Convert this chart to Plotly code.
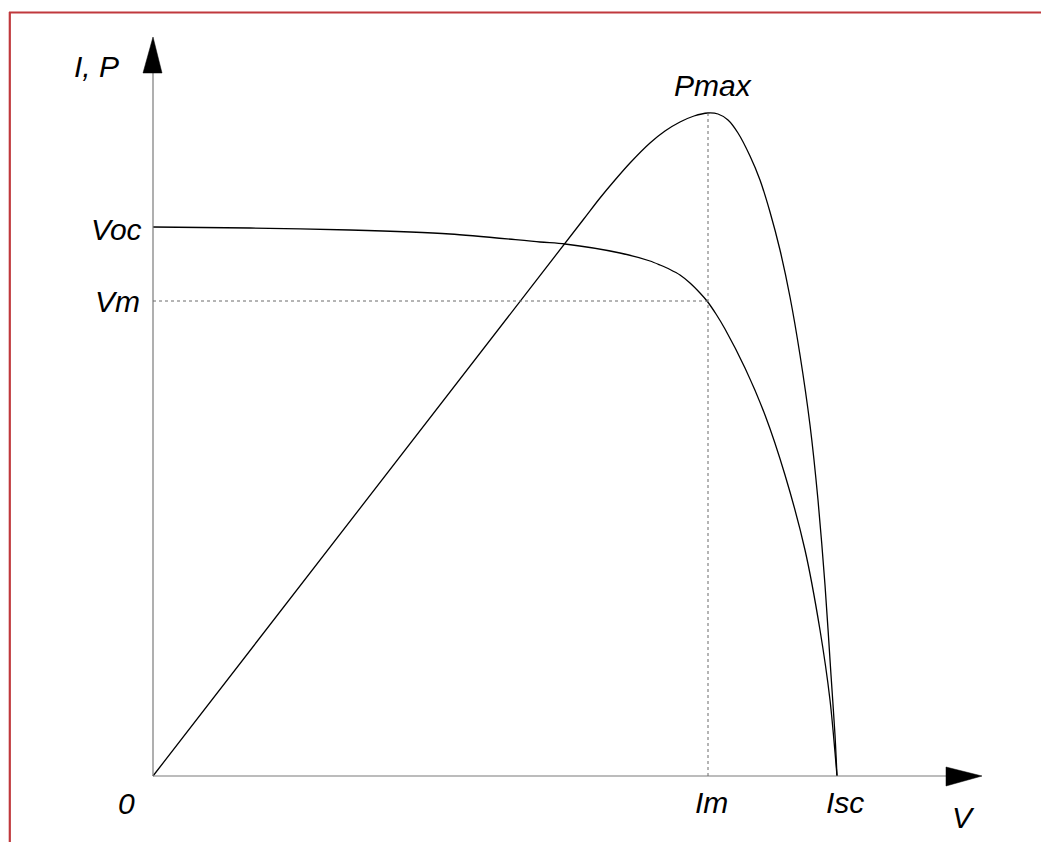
import plotly.graph_objects as go

# Values (units: pixels of the reference, origin at the axes' corner)
iv_v = [0, 97, 197, 297, 387, 412, 467, 497, 507, 517, 527, 537, 547, 554, 563, 572, 592, 612, 632, 652, 667, 677, 684]
iv_i = [549, 548, 546, 542, 534, 532, 523, 515, 511, 506.5, 501, 493, 483, 475, 462, 447, 408, 361, 301, 226, 146, 76, 0]

pv_v = [0, 430, 447, 462, 477, 497, 512, 527, 541, 555, 565, 575, 585, 597, 607, 617, 627, 637, 647, 657, 665, 672, 678, 682, 684]
pv_p = [0, 556, 578, 596, 613, 633, 645, 654, 660, 663, 662, 656, 643, 620, 596, 564, 526, 479, 421, 351, 276, 191, 101, 41, 0]

v_max = 684      # Isc
v_m = 555        # Im
i_oc = 549       # Voc level
i_m = 475        # Vm level
p_max = 663      # Pmax

axis_x_end = 829   # arrow tip along V
axis_y_end = 739   # arrow tip along I,P

# the page body adds an 8px offset, so the figure content is shifted back by 8px
OFF = 8
W, H = 1049, 842
x0_px, y0_px = 153 - OFF, 776 - OFF

fig = go.Figure()
for xs, ys in ((iv_v, iv_i), (pv_v, pv_p)):
    fig.add_trace(go.Scatter(x=xs, y=ys, mode="lines",
                             line=dict(color="black", width=1.3, shape="spline", smoothing=0.8),
                             hoverinfo="skip", showlegend=False))

axis_col = "#7a7a7a"
shapes = []
shapes.append(dict(type="line", x0=0, y0=0, x1=axis_x_end - 36, y1=0, line=dict(color=axis_col, width=1.2)))
shapes.append(dict(type="line", x0=0, y0=0, x1=0, y1=axis_y_end - 36, line=dict(color=axis_col, width=1.2)))
shapes.append(dict(type="path", path=f"M {axis_x_end-36},9 L {axis_x_end},0 L {axis_x_end-36},-10 Z",
                   fillcolor="black", line=dict(color="black", width=0.5)))
shapes.append(dict(type="path", path=f"M -10,{axis_y_end-36} L 0,{axis_y_end} L 9,{axis_y_end-36} Z",
                   fillcolor="black", line=dict(color="black", width=0.5)))
dash_col = "#6a6a6a"
shapes.append(dict(type="line", x0=0, y0=i_m, x1=v_m, y1=i_m, line=dict(color=dash_col, width=1, dash="3px,3px")))
shapes.append(dict(type="line", x0=v_m, y0=0, x1=v_m, y1=p_max, line=dict(color=dash_col, width=1, dash="3px,3px")))
red = "#c0393d"
shapes.append(dict(type="line", xref="paper", yref="paper", x0=(9 - OFF) / W, y0=1 - (12.5 - OFF) / H, x1=1,
                   y1=1 - (12.5 - OFF) / H, line=dict(color=red, width=2.2)))
shapes.append(dict(type="line", xref="paper", yref="paper", x0=(9.8 - OFF) / W, y0=1 - (12 - OFF) / H,
                   x1=(9.8 - OFF) / W, y1=0, line=dict(color=red, width=2.2)))

font = dict(family="Liberation Sans, Arial, sans-serif", size=30, color="black")
X0, Y0 = 153, 776
def lab(text, x, y, xa="center"):
    return dict(text=f"<i>{text}</i>", x=x, y=y, xref="x", yref="y", showarrow=False,
                xanchor=xa, yanchor="middle", font=font)

annotations = [
    lab("I, P", 96 - X0, Y0 - 66),
    lab("Voc", 144 - X0, i_oc - 2, "right"),
    lab("Vm", 142 - X0, i_m - 0, "right"),
    lab("0", 126 - X0, Y0 - 803),
    lab("Im", v_m + 3, Y0 - 802),
    lab("Isc", v_max + 8, Y0 - 802),
    lab("V", 963 - X0, Y0 - 817),
    lab("Pmax", 713 - X0, Y0 - 85),
]

fig.update_layout(
    width=W, height=H, autosize=False,
    margin=dict(l=0, r=0, t=0, b=0),
    paper_bgcolor="white", plot_bgcolor="white",
    xaxis=dict(range=[-x0_px, W - x0_px], visible=False, fixedrange=True),
    yaxis=dict(range=[y0_px - H, y0_px], visible=False, fixedrange=True),
    shapes=shapes, annotations=annotations, showlegend=False,
)

fig.write_html("out.html")
